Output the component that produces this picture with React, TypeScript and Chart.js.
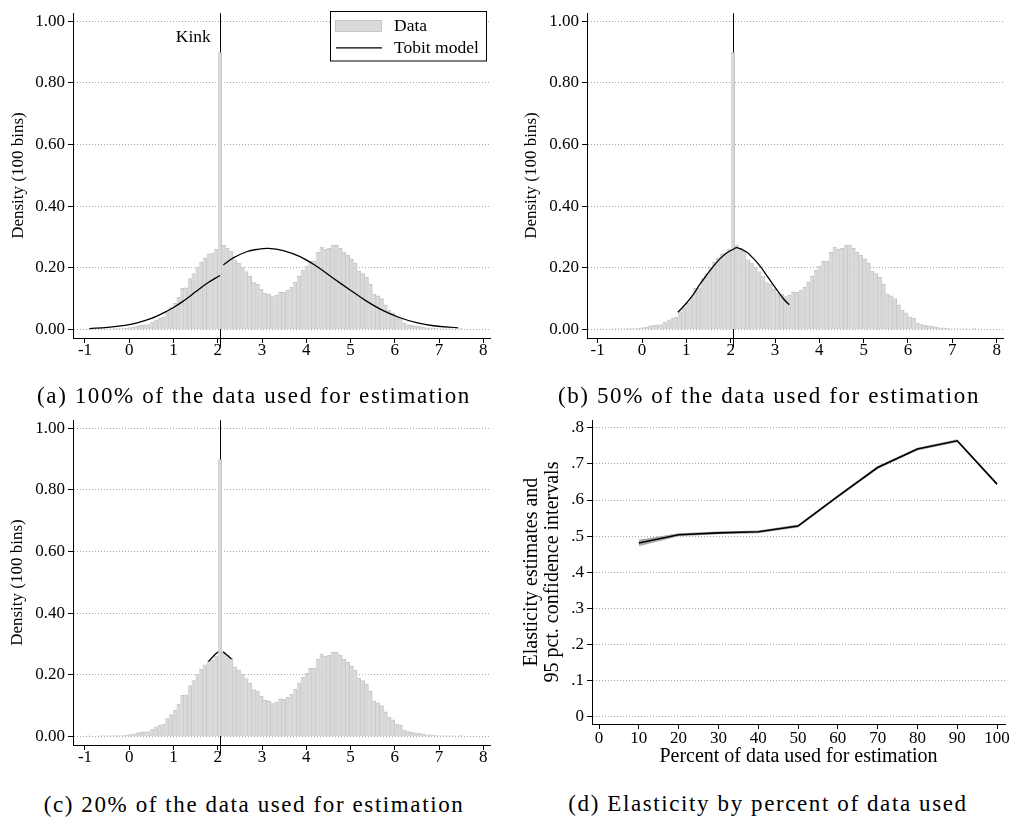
import React, { useEffect, useRef } from "react";
import { Chart, registerables } from "chart.js";

Chart.register(...registerables);

const FONT = "'Liberation Serif', 'Times New Roman', serif";
Chart.defaults.font.family = FONT;
Chart.defaults.font.size = 17;
Chart.defaults.color = "#000";

// ---------- Histogram (same data in panels a, b, c) ----------
const binLeft = -0.97;
const binWidth = 0.085;
const histDensity = [
  0.002, 0.0, 0.0, 0.002, 0.002, 0.002, 0.002, 0.003, 0.003, 0.003,
  0.004, 0.006, 0.007, 0.012, 0.013, 0.015, 0.016, 0.024, 0.031, 0.037,
  0.04, 0.058, 0.071, 0.085, 0.104, 0.133, 0.135, 0.165, 0.181, 0.202,
  0.218, 0.232, 0.245, 0.248, 0.26, 0.898, 0.273, 0.263, 0.253, 0.226,
  0.215, 0.202, 0.188, 0.173, 0.152, 0.147, 0.13, 0.118, 0.114, 0.107,
  0.111, 0.122, 0.12, 0.127, 0.137, 0.154, 0.174, 0.192, 0.205, 0.221,
  0.222, 0.25, 0.267, 0.26, 0.263, 0.274, 0.273, 0.263, 0.25, 0.241,
  0.229, 0.215, 0.189, 0.181, 0.17, 0.146, 0.115, 0.109, 0.1, 0.08,
  0.062, 0.054, 0.04, 0.037, 0.021, 0.016, 0.013, 0.012, 0.011, 0.007,
  0.005, 0.005, 0.004, 0.002, 0.002, 0.002, 0.002, 0.002, 0.0, 0.003,
];
const kinkValue = 2.057;
const histYTicks = [0, 0.2, 0.4, 0.6, 0.8, 1.0];
const histXTicks = [-1, 0, 1, 2, 3, 4, 5, 6, 7, 8];

// ---------- Tobit model curves ----------
const tobitALeftX = [-0.9, -0.5, -0.06, 0.2, 0.47, 0.75, 1.0, 1.25, 1.5, 1.75, 2.05];
const tobitALeftY = [0.003, 0.007, 0.014, 0.022, 0.034, 0.052, 0.071, 0.095, 0.122, 0.149, 0.175];
const tobitARightX = [2.125, 2.35, 2.65, 2.9, 3.14, 3.48, 3.86, 4.24, 4.61, 4.99, 5.36, 5.74, 6.12, 6.49, 6.87, 7.43];
const tobitARightY = [0.209, 0.232, 0.252, 0.26, 0.263, 0.256, 0.236, 0.204, 0.166, 0.128, 0.092, 0.061, 0.038, 0.022, 0.012, 0.005];

const tobitBX = [0.81, 1.0, 1.15, 1.3, 1.45, 1.6, 1.75, 1.9, 2.06, 2.14, 2.35, 2.5, 2.65, 2.8, 2.95, 3.1, 3.2, 3.32];
const tobitBY = [0.056, 0.085, 0.112, 0.145, 0.175, 0.203, 0.228, 0.247, 0.26, 0.265, 0.252, 0.232, 0.208, 0.178, 0.147, 0.117, 0.098, 0.08];

const tobitCLeftX = [1.79, 1.9, 2.01];
const tobitCLeftY = [0.243, 0.26, 0.275];
const tobitCRightX = [2.12, 2.24, 2.31];
const tobitCRightY = [0.275, 0.26, 0.251];

// ---------- Panel d: elasticity ----------
const pctUsed = [10, 20, 30, 40, 50, 60, 70, 80, 90, 100];
const elastEst = [0.481, 0.504, 0.509, 0.512, 0.528, 0.61, 0.69, 0.741, 0.764, 0.644];
const elastLo = [0.472, 0.5, 0.505, 0.508, 0.524, 0.606, 0.686, 0.737, 0.76, 0.64];
const elastHi = [0.49, 0.508, 0.513, 0.516, 0.532, 0.614, 0.694, 0.745, 0.768, 0.648];
const elastYTicks = [0, 0.1, 0.2, 0.3, 0.4, 0.5, 0.6, 0.7, 0.8];
const elastXTicks = [0, 10, 20, 30, 40, 50, 60, 70, 80, 90, 100];

const BAR_FILL = "#d9d9d9";
const BAR_EDGE = "#c6c6c6";
const GRID = "#a8a8a8";

const pts = (xs: number[], ys: number[]) => xs.map((x, i) => ({ x, y: ys[i] }));

function curveDataset(xs: number[], ys: number[]) {
  return {
    type: "line",
    data: pts(xs, ys),
    borderColor: "#000",
    borderWidth: 1.3,
    pointRadius: 0,
    tension: 0.4,
    fill: false,
    order: 0,
  };
}

function kinkPlugin(showLabel: boolean) {
  return {
    id: "kinkLine",
    beforeDatasetsDraw(chart: any) {
      const { ctx, chartArea, scales } = chart;
      const x = Math.round(scales.x.getPixelForValue(kinkValue)) + 0.5;
      ctx.save();
      ctx.strokeStyle = "#000";
      ctx.lineWidth = 1;
      ctx.beginPath();
      ctx.moveTo(x, chartArea.top);
      ctx.lineTo(x, chartArea.bottom + 9);
      ctx.stroke();
      ctx.restore();
    },
    afterDatasetsDraw(chart: any) {
      if (!showLabel) return;
      const { ctx, scales, chartArea } = chart;
      const x = scales.x.getPixelForValue(kinkValue);
      ctx.save();
      ctx.font = `17.5px ${FONT}`;
      ctx.fillStyle = "#000";
      ctx.textAlign = "right";
      ctx.textBaseline = "middle";
      ctx.fillText("Kink", x - 9.5, chartArea.top + 24);
      ctx.restore();
    },
  };
}

const legendPlugin = {
  id: "boxLegend",
  afterDraw(chart: any) {
    const { ctx } = chart;
    ctx.save();
    ctx.fillStyle = "#fff";
    ctx.fillRect(330.5, 11.5, 156, 49.5);
    ctx.strokeStyle = "#000";
    ctx.lineWidth = 1;
    ctx.strokeRect(330.5, 11.5, 156, 49.5);
    ctx.fillStyle = BAR_FILL;
    ctx.fillRect(335, 20, 47, 12);
    ctx.strokeStyle = BAR_EDGE;
    ctx.strokeRect(335.5, 20.5, 46, 11);
    ctx.strokeStyle = "#000";
    ctx.lineWidth = 1.3;
    ctx.beginPath();
    ctx.moveTo(336, 47.8);
    ctx.lineTo(382, 47.8);
    ctx.stroke();
    ctx.font = `17.5px ${FONT}`;
    ctx.fillStyle = "#000";
    ctx.textAlign = "left";
    ctx.textBaseline = "middle";
    ctx.fillText("Data", 394, 26);
    ctx.fillText("Tobit model", 394, 48.5);
    ctx.restore();
  },
};

type HistOpts = {
  curves: any[];
  yWidth: number;
  xMin: number;
  xMax: number;
  titlePad: number;
  padRight: number;
  kinkLabel: boolean;
  legend: boolean;
};

function histConfig(o: HistOpts): any {
  const plugins: any[] = [kinkPlugin(o.kinkLabel)];
  if (o.legend) plugins.push(legendPlugin);
  return {
    type: "bar",
    data: {
      datasets: [
        ...o.curves,
        {
          type: "bar",
          data: histDensity.map((h, k) => ({ x: binLeft + (k + 0.5) * binWidth, y: h })),
          backgroundColor: BAR_FILL,
          borderColor: BAR_EDGE,
          borderWidth: { top: 1, right: 1, left: 0, bottom: 0 },
          borderSkipped: false,
          barPercentage: 1,
          categoryPercentage: 1,
          order: 1,
        },
      ],
    },
    plugins,
    options: {
      responsive: false,
      maintainAspectRatio: false,
      animation: false,
      events: [],
      layout: { padding: { left: 0, top: 7, right: o.padRight, bottom: 10 } },
      plugins: { legend: { display: false }, tooltip: { enabled: false } },
      scales: {
        x: {
          type: "linear",
          min: o.xMin,
          max: o.xMax,
          offset: false,
          afterFit: (s: any) => {
            s.height = 22;
          },
          afterBuildTicks: (s: any) => {
            s.ticks = histXTicks.map((v) => ({ value: v }));
          },
          ticks: {
            callback: (v: any) => String(v),
            padding: -1,
            maxRotation: 0,
            autoSkip: false,
            color: "#000",
            font: { size: 17, lineHeight: 1 },
          },
          grid: { drawOnChartArea: false, drawTicks: true, tickLength: 5, tickColor: "#000", offset: false },
          border: { display: true, color: "#000", width: 1 },
        },
        y: {
          type: "linear",
          min: -0.0277,
          max: 1.0255,
          afterFit: (s: any) => {
            s.width = o.yWidth;
          },
          afterBuildTicks: (s: any) => {
            s.ticks = histYTicks.map((v) => ({ value: v }));
          },
          ticks: {
            callback: (v: any) => Number(v).toFixed(2),
            padding: 3,
            color: "#000",
            font: { size: 17 },
          },
          grid: {
            color: GRID,
            lineWidth: 1,
            drawTicks: true,
            tickLength: 5,
            tickColor: "#000",
            tickBorderDash: [],
          },
          border: { display: true, color: "#000", width: 1, dash: [1, 2] },
          title: {
            display: true,
            text: "Density (100 bins)",
            color: "#000",
            font: { size: 17 },
            padding: { top: o.titlePad, bottom: 0 },
          },
        },
      },
    },
  };
}

function elastConfig(): any {
  return {
    type: "line",
    data: {
      datasets: [
        {
          data: pts(pctUsed, elastLo),
          borderColor: "rgba(0,0,0,0)",
          borderWidth: 1,
          pointRadius: 0,
          fill: false,
          order: 2,
        },
        {
          data: pts(pctUsed, elastHi),
          borderColor: "rgba(0,0,0,0)",
          borderWidth: 1,
          backgroundColor: "#a9a9a9",
          pointRadius: 0,
          fill: "-1",
          order: 1,
        },
        {
          data: pts(pctUsed, elastEst),
          borderColor: "#000",
          borderWidth: 1.6,
          pointRadius: 0,
          fill: false,
          order: 0,
        },
      ],
    },
    options: {
      responsive: false,
      maintainAspectRatio: false,
      animation: false,
      events: [],
      layout: { padding: { left: 0, top: 7, right: 8, bottom: 0 } },
      plugins: { legend: { display: false }, tooltip: { enabled: false } },
      scales: {
        x: {
          type: "linear",
          min: -1.76,
          max: 102.0,
          afterFit: (s: any) => {
            s.height = 53;
          },
          afterBuildTicks: (s: any) => {
            s.ticks = elastXTicks.map((v) => ({ value: v }));
          },
          ticks: {
            callback: (v: any) => String(v),
            padding: 1,
            maxRotation: 0,
            autoSkip: false,
            color: "#000",
            font: { size: 17, lineHeight: 1 },
          },
          grid: { drawOnChartArea: false, drawTicks: true, tickLength: 5, tickColor: "#000" },
          border: { display: true, color: "#000", width: 1 },
          title: {
            display: true,
            text: "Percent of data used for estimation",
            color: "#000",
            font: { size: 20, lineHeight: 1.05 },
            padding: { top: 0, bottom: 9.5 },
          },
        },
        y: {
          type: "linear",
          min: -0.0198,
          max: 0.8209,
          afterFit: (s: any) => {
            s.width = 92;
          },
          afterBuildTicks: (s: any) => {
            s.ticks = elastYTicks.map((v) => ({ value: v }));
          },
          ticks: {
            callback: (v: any) => {
              const n = Number(v);
              return Math.abs(n) < 1e-9 ? "0" : n.toFixed(1).replace(/^0/, "");
            },
            padding: 3,
            color: "#000",
            font: { size: 17 },
          },
          grid: {
            color: GRID,
            lineWidth: 1,
            drawTicks: true,
            tickLength: 5,
            tickColor: "#000",
            tickBorderDash: [],
          },
          border: { display: true, color: "#000", width: 1, dash: [1, 2] },
          title: {
            display: true,
            text: ["Elasticity estimates and", "95 pct. confidence intervals"],
            color: "#000",
            font: { size: 20, lineHeight: 1.05 },
            padding: { top: 21.5, bottom: 0 },
          },
        },
      },
    },
  };
}

function ChartCanvas(props: { make: () => any; left: number; top: number; width: number; height: number }) {
  const ref = useRef<HTMLCanvasElement>(null);
  useEffect(() => {
    const chart = new Chart(ref.current as HTMLCanvasElement, props.make());
    return () => chart.destroy();
  }, []);
  return (
    <canvas
      ref={ref}
      width={props.width}
      height={props.height}
      style={{
        position: "absolute",
        left: props.left,
        top: props.top,
        width: props.width,
        height: props.height,
      }}
    />
  );
}

const captionStyle = (cx: number, cy: number): React.CSSProperties => ({
  position: "absolute",
  left: cx - 260,
  width: 520,
  top: cy - 12,
  height: 24,
  lineHeight: "24px",
  textAlign: "center",
  fontFamily: FONT,
  fontSize: 23,
  letterSpacing: "1.6px",
  color: "#000",
  whiteSpace: "nowrap",
});

export default function App() {
  return (
    <div
      style={{
        position: "absolute",
        left: 0,
        top: 0,
        width: 1013,
        height: 819,
        background: "#fff",
        overflow: "hidden",
      }}
    >
      <ChartCanvas
        left={0}
        top={0}
        width={500}
        height={370}
        make={() =>
          histConfig({
            curves: [curveDataset(tobitALeftX, tobitALeftY), curveDataset(tobitARightX, tobitARightY)],
            yWidth: 73,
            xMin: -1.271,
            xMax: 8.151,
            titlePad: 8,
            padRight: 10,
            kinkLabel: true,
            legend: true,
          })
        }
      />
      <ChartCanvas
        left={500}
        top={0}
        width={513}
        height={370}
        make={() =>
          histConfig({
            curves: [curveDataset(tobitBX, tobitBY)],
            yWidth: 87,
            xMin: -1.241,
            xMax: 8.143,
            titlePad: 21.5,
            padRight: 10,
            kinkLabel: false,
            legend: false,
          })
        }
      />
      <ChartCanvas
        left={0}
        top={407}
        width={500}
        height={370}
        make={() =>
          histConfig({
            curves: [curveDataset(tobitCLeftX, tobitCLeftY), curveDataset(tobitCRightX, tobitCRightY)],
            yWidth: 73,
            xMin: -1.271,
            xMax: 8.151,
            titlePad: 7.5,
            padRight: 10,
            kinkLabel: false,
            legend: false,
          })
        }
      />
      <ChartCanvas left={500} top={407} width={513} height={370} make={elastConfig} />
      <div style={captionStyle(254, 396)}>(a) 100% of the data used for estimation</div>
      <div style={captionStyle(769, 396)}>(b) 50% of the data used for estimation</div>
      <div style={captionStyle(254, 805)}>(c) 20% of the data used for estimation</div>
      <div style={captionStyle(768, 804)}>(d) Elasticity by percent of data used</div>
    </div>
  );
}
